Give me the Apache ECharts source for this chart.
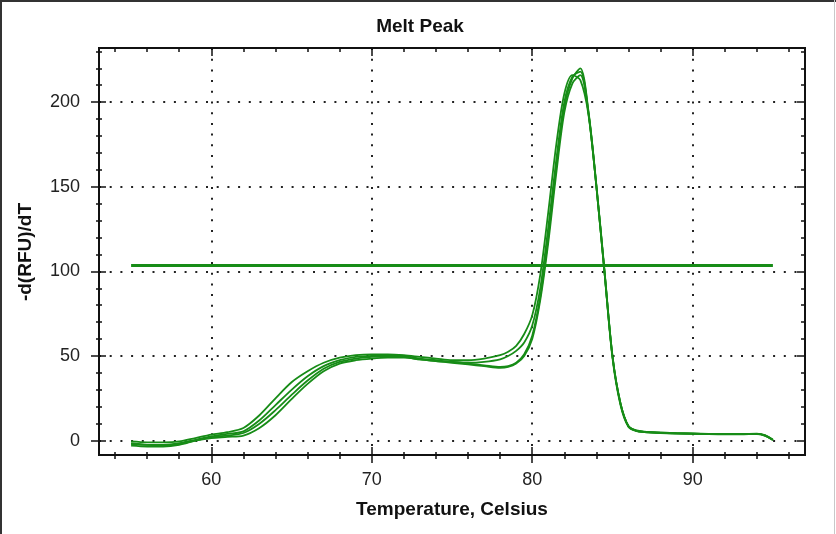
<!DOCTYPE html>
<html><head><meta charset="utf-8">
<script src="https://cdn.jsdelivr.net/npm/echarts@6/dist/echarts.min.js"></script>
<style>html,body{margin:0;padding:0;background:#fff}#c{width:836px;height:534px}</style>
</head><body><div id="c"></div>
<script>
// ---- data ----
const temps = [55,56,57,58,59,60,61,62,63,64,65,66,67,68,69,70,71,72,73,74,75,76,77,78,78.5,79,79.5,80,80.5,81,81.5,82,82.5,83,83.5,84,84.5,85,85.5,86,86.5,87,88,89,90,91,92,93,94,94.5,95];
const well1 = [-0.5,-1,-1,-0.5,1.5,3.5,5,7.5,15,25,34.5,41,46,49,50.5,51,51,50.5,49.5,48.5,47.5,47.5,48.5,50.5,52.5,56,63,74,98,135,175,205,216,213,193,150,100,50,22,8.5,5.8,5.2,4.6,4.3,4.1,3.9,3.8,3.8,4,3,0.5];
const well2 = [-2,-2.5,-2.5,-1.5,0.5,2.5,4,5.5,12,21,30,38,44,47.5,49.5,50,50.5,50,48.5,47.5,46.5,45.5,44.5,43.5,44,46,51,62,85,120,162,197,214,220,195,151,101,50,22,8.5,6,5.3,4.8,4.4,4.2,4,3.9,3.9,4.1,3.2,0.4];
const well3 = [-3,-3.5,-3.5,-2.5,0,2,3,4.5,10,18,27,35.5,42.5,46.5,48.5,49.5,50,49.5,48,47,46,45,44,43,43.5,45.5,50,60,83,117,158,194,211,216,194,150,100,49,21,8,5.6,5,4.5,4.2,4,3.8,3.7,3.7,3.9,3,0.3];
const well4 = [-1.5,-2.5,-3,-2,0,1.5,2.2,3,7.5,15,24.5,33.5,41,45.5,47.5,48.5,49,49,48,47,46.5,46,46.5,48,50,53,58,68,90,126,166,200,215,218,194,150,100,50,22,8.5,5.8,5.1,4.6,4.3,4.1,3.9,3.8,3.8,4,3.1,0.5];
const threshold = 103.5;
const thresholdRange = [55, 95];
const xMinorTicks = [54,56,58,60,62,64,66,68,70,72,74,76,78,80,82,84,86,88,90,92,94,96];
const xMajorTicks = [60,70,80,90];
const yMinorTicks = [0,10,20,30,40,50,60,70,80,90,100,110,120,130,140,150,160,170,180,190,200,210,220,230];
const yMajorTicks = [0,50,100,150,200];

// ---- styling ----
const X_MIN = 53, X_MAX = 97, Y_MIN = -8.5, Y_MAX = 232;
const INK = '#111';
const GREEN = '#178c17';
const FONT = '"Liberation Sans", Arial, sans-serif';

function axis(dim, pos, ticks, len, inside, extra) {
  const o = {
    type: 'value', position: pos,
    min: dim === 'x' ? X_MIN : Y_MIN,
    max: dim === 'x' ? X_MAX : Y_MAX,
    axisLine: {show: true, onZero: false, lineStyle: {color: INK, width: 2}},
    axisTick: {show: true, customValues: ticks, length: len, inside: inside, lineStyle: {color: INK, width: 1.5}},
    axisLabel: {show: false},
    splitLine: {show: false}
  };
  return Object.assign(o, extra || {});
}
const dotted = {show: true, lineStyle: {color: '#222', width: 2, type: [2, 8.7]}};
const labelStyle = {color: '#222', fontSize: 18, fontFamily: FONT};

const xAxes = [
  axis('x', 'bottom', xMinorTicks, 4, false),
  axis('x', 'bottom', xMinorTicks, 3, true),
  axis('x', 'bottom', xMajorTicks, 8, false, {axisLabel: Object.assign({show: true, customValues: xMajorTicks, margin: 16}, labelStyle)}),
  axis('x', 'bottom', xMajorTicks, 8, true, {splitLine: dotted}),
  axis('x', 'top', xMinorTicks, 4, true),
  axis('x', 'top', xMajorTicks, 8, true)
];
const yAxes = [
  axis('y', 'left', yMinorTicks, 3, false),
  axis('y', 'left', yMinorTicks, 3, true),
  axis('y', 'left', yMajorTicks, 8, false, {axisLabel: Object.assign({show: true, customValues: yMajorTicks, margin: 19}, labelStyle)}),
  axis('y', 'left', yMajorTicks, 7, true, {splitLine: dotted}),
  axis('y', 'right', yMinorTicks, 4, true),
  axis('y', 'right', yMajorTicks, 8, true)
];

const wells = [well1, well2, well3, well4];
const series = wells.map((w, k) => ({
  type: 'line', name: 'Well ' + (k + 1), xAxisIndex: 0, yAxisIndex: 0,
  data: temps.map((t, i) => [t, w[i]]),
  showSymbol: false, smooth: 0.3, z: 5,
  lineStyle: {color: GREEN, width: 1.8}
}));
series.push({
  type: 'line', name: 'Threshold', xAxisIndex: 0, yAxisIndex: 0,
  data: thresholdRange.map(t => [t, threshold]),
  showSymbol: false, z: 6,
  lineStyle: {color: GREEN, width: 3}
});

const chart = echarts.init(document.getElementById('c'), null, {renderer: 'canvas'});
chart.setOption({
  animation: false,
  backgroundColor: '#fff',
  grid: {left: 99, top: 48, width: 706, height: 407, containLabel: false},
  xAxis: xAxes,
  yAxis: yAxes,
  series: series,
  graphic: [
    {type: 'text', x: 420, y: 27, style: {text: 'Melt Peak', font: 'bold 19px ' + FONT, fill: '#111', align: 'center', verticalAlign: 'middle'}},
    {type: 'text', x: 452, y: 510, style: {text: 'Temperature, Celsius', font: 'bold 19px ' + FONT, fill: '#111', align: 'center', verticalAlign: 'middle'}},
    {type: 'text', x: 26, y: 252, rotation: Math.PI / 2, style: {text: '-d(RFU)/dT', font: 'bold 19px ' + FONT, fill: '#111', align: 'center', verticalAlign: 'middle'}},
    {type: 'line', shape: {x1: 1, y1: 0, x2: 1, y2: 534}, style: {stroke: '#333', lineWidth: 2}},
    {type: 'line', shape: {x1: 0, y1: 1, x2: 836, y2: 1}, style: {stroke: '#333', lineWidth: 2}},
    {type: 'line', shape: {x1: 834.5, y1: 0, x2: 834.5, y2: 534}, style: {stroke: '#c8c8c8', lineWidth: 1}}
  ]
});
</script>
</body></html>
